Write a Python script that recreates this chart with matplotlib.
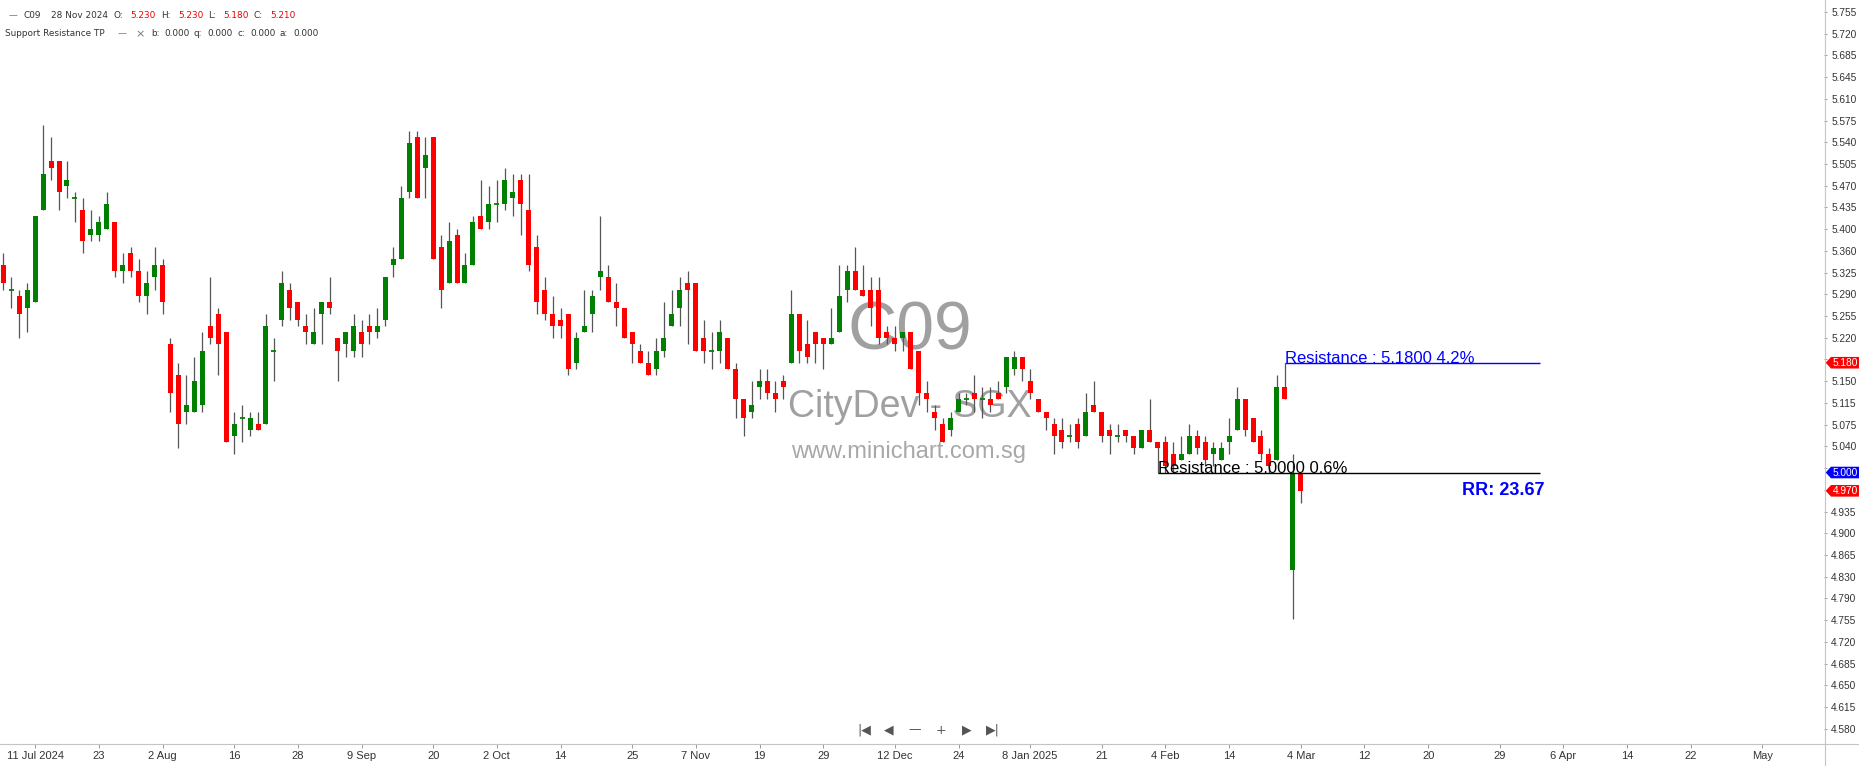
import numpy as np
import matplotlib
matplotlib.use("Agg")
import matplotlib.pyplot as plt
from matplotlib import font_manager
from matplotlib.patches import Polygon
from matplotlib.lines import Line2D

W, H, DPI = 1859, 766, 100

# --- daily OHLC, C09 (CityDev - SGX), 10 Jul 2024 .. 4 Mar 2025 ---
opens = [5.34, 5.30, 5.29, 5.27, 5.28, 5.43, 5.51, 5.51, 5.47, 5.45,
         5.43, 5.39, 5.39, 5.40, 5.41, 5.33, 5.36, 5.33, 5.29, 5.32,
         5.34, 5.21, 5.16, 5.10, 5.10, 5.11, 5.24, 5.26, 5.23, 5.06,
         5.09, 5.07, 5.08, 5.08, 5.20, 5.25, 5.30, 5.28, 5.24, 5.21,
         5.26, 5.28, 5.22, 5.21, 5.20, 5.23, 5.24, 5.23, 5.25, 5.34,
         5.35, 5.46, 5.55, 5.50, 5.55, 5.37, 5.31, 5.39, 5.31, 5.34,
         5.42, 5.41, 5.44, 5.44, 5.45, 5.48, 5.43, 5.37, 5.30, 5.26,
         5.25, 5.26, 5.18, 5.23, 5.26, 5.32, 5.32, 5.28, 5.27, 5.23,
         5.20, 5.18, 5.17, 5.20, 5.24, 5.27, 5.31, 5.31, 5.22, 5.20,
         5.20, 5.22, 5.17, 5.12, 5.10, 5.14, 5.15, 5.13, 5.15, 5.18,
         5.26, 5.21, 5.23, 5.22, 5.21, 5.23, 5.30, 5.33, 5.30, 5.30,
         5.30, 5.23, 5.22, 5.22, 5.23, 5.20, 5.13, 5.10, 5.08, 5.07,
         5.10, 5.12, 5.13, 5.12, 5.12, 5.13, 5.14, 5.17, 5.19, 5.15,
         5.12, 5.10, 5.08, 5.07, 5.06, 5.08, 5.06, 5.11, 5.10, 5.07,
         5.06, 5.07, 5.06, 5.04, 5.07, 5.05, 5.05, 5.03, 5.02, 5.03,
         5.06, 5.05, 5.03, 5.02, 5.05, 5.07, 5.12, 5.09, 5.06, 5.03,
         5.02, 5.14, 4.84, 5.00]
highs = [5.36, 5.32, 5.30, 5.31, 5.42, 5.57, 5.55, 5.51, 5.51, 5.46,
         5.45, 5.43, 5.42, 5.46, 5.41, 5.36, 5.37, 5.35, 5.33, 5.37,
         5.35, 5.22, 5.18, 5.16, 5.19, 5.23, 5.32, 5.27, 5.23, 5.10,
         5.11, 5.10, 5.10, 5.26, 5.22, 5.33, 5.31, 5.28, 5.26, 5.27,
         5.28, 5.32, 5.22, 5.23, 5.26, 5.25, 5.26, 5.27, 5.32, 5.37,
         5.47, 5.56, 5.56, 5.55, 5.55, 5.39, 5.41, 5.40, 5.36, 5.42,
         5.48, 5.47, 5.48, 5.50, 5.49, 5.49, 5.49, 5.39, 5.32, 5.29,
         5.27, 5.26, 5.23, 5.30, 5.30, 5.42, 5.34, 5.31, 5.27, 5.23,
         5.21, 5.20, 5.22, 5.28, 5.30, 5.32, 5.33, 5.31, 5.25, 5.23,
         5.25, 5.22, 5.18, 5.12, 5.15, 5.17, 5.17, 5.15, 5.16, 5.30,
         5.26, 5.25, 5.23, 5.22, 5.27, 5.34, 5.34, 5.37, 5.34, 5.32,
         5.32, 5.24, 5.24, 5.23, 5.23, 5.20, 5.15, 5.11, 5.09, 5.10,
         5.13, 5.13, 5.16, 5.14, 5.14, 5.15, 5.19, 5.20, 5.19, 5.17,
         5.12, 5.10, 5.09, 5.09, 5.08, 5.09, 5.13, 5.15, 5.10, 5.08,
         5.08, 5.07, 5.06, 5.07, 5.12, 5.05, 5.06, 5.05, 5.06, 5.08,
         5.07, 5.06, 5.05, 5.05, 5.09, 5.14, 5.12, 5.09, 5.07, 5.04,
         5.16, 5.18, 5.03, 5.00]
lows = [5.30, 5.27, 5.22, 5.23, 5.28, 5.43, 5.48, 5.43, 5.45, 5.41,
        5.36, 5.38, 5.38, 5.40, 5.32, 5.31, 5.32, 5.28, 5.26, 5.30,
        5.26, 5.10, 5.04, 5.08, 5.10, 5.10, 5.21, 5.16, 5.05, 5.03,
        5.05, 5.06, 5.07, 5.08, 5.15, 5.24, 5.25, 5.24, 5.21, 5.21,
        5.21, 5.26, 5.15, 5.19, 5.19, 5.19, 5.21, 5.22, 5.24, 5.32,
        5.35, 5.45, 5.45, 5.45, 5.35, 5.27, 5.31, 5.31, 5.31, 5.34,
        5.40, 5.40, 5.41, 5.43, 5.42, 5.39, 5.33, 5.26, 5.25, 5.22,
        5.22, 5.16, 5.17, 5.23, 5.23, 5.30, 5.28, 5.24, 5.22, 5.18,
        5.18, 5.16, 5.16, 5.19, 5.24, 5.24, 5.21, 5.20, 5.18, 5.17,
        5.18, 5.17, 5.09, 5.06, 5.09, 5.12, 5.12, 5.10, 5.12, 5.18,
        5.18, 5.18, 5.18, 5.17, 5.21, 5.23, 5.28, 5.30, 5.29, 5.24,
        5.21, 5.21, 5.20, 5.20, 5.17, 5.11, 5.10, 5.07, 5.05, 5.06,
        5.10, 5.11, 5.10, 5.09, 5.10, 5.12, 5.13, 5.16, 5.15, 5.12,
        5.10, 5.07, 5.03, 5.04, 5.05, 5.04, 5.06, 5.10, 5.05, 5.03,
        5.05, 5.05, 5.03, 5.04, 5.05, 5.00, 5.00, 5.00, 5.02, 5.03,
        5.03, 5.01, 5.01, 5.02, 5.03, 5.07, 5.06, 5.05, 5.02, 5.00,
        5.02, 5.12, 4.76, 4.95]
closes = [5.31, 5.30, 5.26, 5.30, 5.42, 5.49, 5.50, 5.46, 5.48, 5.45,
          5.38, 5.40, 5.41, 5.44, 5.33, 5.34, 5.33, 5.29, 5.31, 5.34,
          5.28, 5.13, 5.08, 5.11, 5.15, 5.20, 5.22, 5.21, 5.05, 5.08,
          5.09, 5.09, 5.07, 5.24, 5.20, 5.31, 5.27, 5.25, 5.23, 5.23,
          5.28, 5.27, 5.20, 5.23, 5.24, 5.21, 5.23, 5.24, 5.32, 5.35,
          5.45, 5.54, 5.45, 5.52, 5.35, 5.30, 5.38, 5.31, 5.34, 5.41,
          5.40, 5.44, 5.44, 5.48, 5.46, 5.44, 5.34, 5.28, 5.26, 5.24,
          5.24, 5.17, 5.22, 5.24, 5.29, 5.33, 5.28, 5.27, 5.22, 5.21,
          5.18, 5.16, 5.20, 5.22, 5.26, 5.30, 5.30, 5.20, 5.20, 5.20,
          5.23, 5.17, 5.12, 5.09, 5.11, 5.15, 5.13, 5.12, 5.14, 5.26,
          5.20, 5.19, 5.21, 5.21, 5.22, 5.29, 5.33, 5.30, 5.29, 5.27,
          5.22, 5.22, 5.21, 5.23, 5.17, 5.13, 5.12, 5.09, 5.05, 5.09,
          5.12, 5.12, 5.12, 5.12, 5.11, 5.12, 5.19, 5.19, 5.17, 5.13,
          5.10, 5.09, 5.06, 5.05, 5.06, 5.05, 5.10, 5.10, 5.06, 5.06,
          5.06, 5.06, 5.04, 5.07, 5.05, 5.04, 5.01, 5.01, 5.03, 5.06,
          5.04, 5.02, 5.04, 5.04, 5.06, 5.12, 5.07, 5.05, 5.03, 5.01,
          5.14, 5.12, 5.00, 4.97]

date_ticks = [4, 12, 20, 29, 37, 45, 54, 62, 70, 79, 87, 95, 103, 112,
              120, 129, 138, 146, 154, 163, 171, 179, 188, 196, 204, 212, 221]
date_labels = ["11 Jul 2024", "23", "2 Aug", "16", "28", "9 Sep", "20", "2 Oct",
               "14", "25", "7 Nov", "19", "29", "12 Dec", "24", "8 Jan 2025",
               "21", "4 Feb", "14", "4 Mar", "12", "20", "29", "6 Apr", "14",
               "22", "May"]

price_labels = ["5.755", "5.720", "5.685", "5.645", "5.610", "5.575", "5.540",
                "5.505", "5.470", "5.435", "5.400", "5.360", "5.325", "5.290",
                "5.255", "5.220", "", "5.150", "5.115", "5.075", "5.040", "", "",
                "4.935", "4.900", "4.865", "4.830", "4.790", "4.755", "4.720",
                "4.685", "4.650", "4.615", "4.580"]

res_levels = [5.18, 5.00]
res_start = [161, 145]
res_end = 193
res_pct = ["4.2%", "0.6%"]
res_colors = ["#0000ff", "#000000"]
rr_value = 23.67
last_price = 4.97

header_values = ["5.230", "5.230", "5.180", "5.210"]

# fonts
names = {f.name for f in font_manager.fontManager.ttflist}
narrow = "Liberation Sans Narrow" if "Liberation Sans Narrow" in names else "Liberation Sans"
plt.rcParams["font.family"] = ["DejaVu Sans"]

fig = plt.figure(figsize=(W / DPI, H / DPI), dpi=DPI)
ax = fig.add_axes([0, 22 / H, 1824 / W, 744 / H])

o, h, l, c = map(np.array, (opens, highs, lows, closes))
x = np.arange(len(o))
up = c >= o
col = np.where(up, "#008000", "#ff0000")

ax.vlines(x, l, h, color="#555555", lw=0.9, zorder=2)
body = np.abs(c - o)
ax.bar(x, body, width=0.63, bottom=np.minimum(o, c), color=col, linewidth=0, zorder=3)
doji = body < 1e-9
ax.hlines(o[doji], x[doji] - 0.315, x[doji] + 0.315, color="#008000", lw=1.3, zorder=3)

ax.set_xlim(-0.4146, 228.73)
ax.set_ylim(4.55492, 5.77467)

for s in ax.spines.values():
    s.set_visible(False)

ax.set_xticks(date_ticks)
ax.set_xticklabels(date_labels, fontfamily=narrow, fontsize=8, color="#333333")
ax.tick_params(axis="x", length=3, width=0.7, color="#999999", pad=2)

ax.yaxis.tick_right()
ax.set_yticks(np.linspace(5.755, 4.580, len(price_labels)))
ax.set_yticklabels(price_labels, fontfamily="Liberation Sans", fontsize=7.3, color="#333333")
ax.tick_params(axis="y", length=2.2, width=0.7, color="#999999", pad=3)


def axp(px, py):
    return px / 1824, (744 - py) / 744


# watermark
ax.text(*axp(910, 350), "C09", transform=ax.transAxes, ha="center", va="baseline",
        fontsize=49, family="Liberation Sans", color="#a0a0a0", zorder=0)
ax.text(*axp(910, 416.7), "CityDev - SGX", transform=ax.transAxes, ha="center",
        va="baseline", fontsize=27, family="Liberation Sans", color="#a0a0a0", zorder=0)
ax.text(*axp(909, 458), "www.minichart.com.sg", transform=ax.transAxes, ha="center",
        va="baseline", fontsize=17, family="Liberation Sans", color="#a8a8a8", zorder=0)

# support / resistance lines
for lev, x0, pct, rc in zip(res_levels, res_start, res_pct, res_colors):
    ax.hlines(lev, x0, res_end, color=rc, lw=1.0, zorder=4)
    ax.text(x0, lev, f"Resistance : {lev:.4f} {pct}", color=rc, fontsize=12,
            family="Liberation Sans", va="baseline", ha="left", zorder=4)
ax.text(res_end + 0.6, last_price, f"RR: {rr_value:.2f}", color="#0000ff", fontsize=13,
        fontweight="bold", family="Liberation Sans", ha="right", va="center", zorder=4)

# axis lines
fig.add_artist(Line2D([1824.5 / W] * 2, [0, 1], color="#c4c4c4", lw=0.8))
fig.add_artist(Line2D([0, 1], [22.5 / H] * 2, color="#c4c4c4", lw=0.8))

# price tags on the right scale
tags = [(res_levels[0], "#ff0000"), (res_levels[1], "#0000ff"), (last_price, "#ff0000")]
for price, tc in tags:
    yd = ax.transData.transform((0, price))[1]
    pts = [(1825.7, yd), (1831, yd - 5.8), (W, yd - 5.8), (W, yd + 5.8), (1831, yd + 5.8)]
    fig.add_artist(Polygon([(px / W, py / H) for px, py in pts], closed=True,
                           facecolor=tc, edgecolor="none", transform=fig.transFigure))
    fig.text(1845.5 / W, yd / H, f"{price:.3f}", color="white", fontsize=7.3,
             family="Liberation Sans", ha="center", va="center")


def ftxt(px, py, s, color="#333333", size=6.4, **kw):
    fig.text(px / W, 1 - py / H, s, color=color, fontsize=size, ha="left", va="center", **kw)


# header
ftxt(9, 16, "—", color="#777777")
ftxt(24, 16, "C09")
ftxt(51, 16, "28 Nov 2024")
for px, lab, val in zip([113, 161, 208, 253], ["O:", "H:", "L:", "C:"], header_values):
    ftxt(px, 16, lab)
    ftxt(px + (17 if lab != "L:" else 15), 16, val, color="#ee0000")
ftxt(5, 34, "Support Resistance TP")
ftxt(118, 34, "—", color="#777777")
ftxt(135, 34, "×", color="#777777", size=8)
for px, lab in zip([151, 194, 237, 280], ["b:", "q:", "c:", "a:"]):
    ftxt(px, 34, lab)
    ftxt(px + 13, 34, "0.000")

# navigation buttons
for px, s in zip([864, 889, 915, 941, 967, 993], ["|◀", "◀", "—", "+", "▶", "▶|"]):
    fig.text(px / W, 1 - 730 / H, s, color="#555555", fontsize=9, ha="center", va="center")

fig.savefig("out.png", dpi=DPI)
